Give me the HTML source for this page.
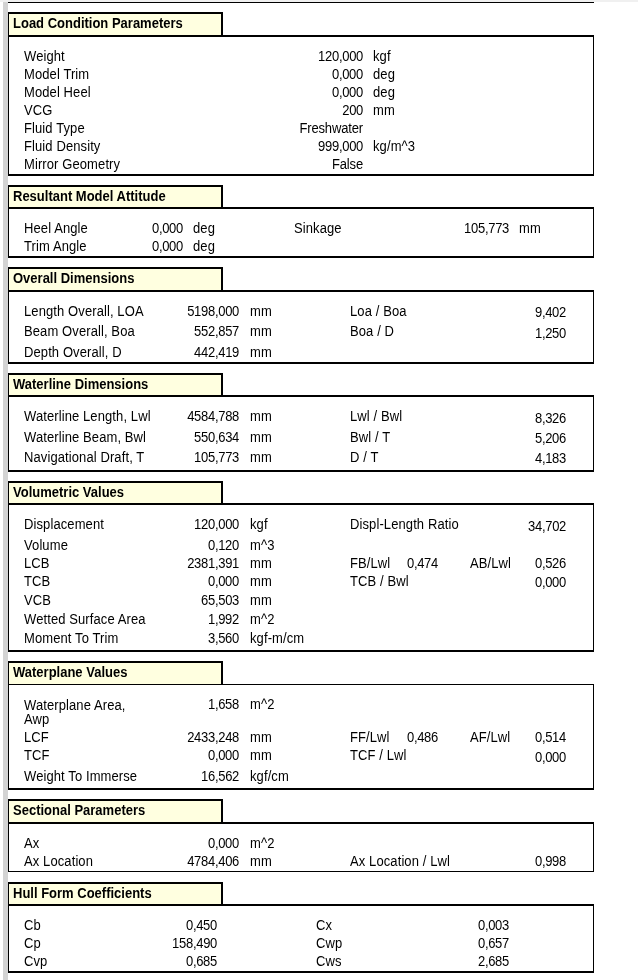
<!DOCTYPE html><html><head><meta charset="utf-8"><style>
html,body{margin:0;padding:0;background:#fff;width:638px;height:980px;overflow:hidden;position:relative}
.r{position:absolute}
.t{position:absolute;font:13px/15px "Liberation Sans", sans-serif;color:#000;white-space:pre;height:15px;transform:scaleY(1.08);transform-origin:0 12px;letter-spacing:0.1px}
.n{letter-spacing:-0.3px}
.rs{letter-spacing:-0.15px}
.L{position:absolute;left:0;top:0;width:638px;height:980px;will-change:transform}
.b{font-weight:bold;letter-spacing:0}
.ra{text-align:right;width:300px}
</style></head><body>
<div class="r" style="left:0px;top:0px;width:638px;height:2px;background:#f0f0f0"></div>
<div class="r" style="left:3px;top:2px;width:5px;height:978px;background:#d3d3d3"></div>
<div class="r" style="left:8px;top:2px;width:586px;height:1px;background:#000"></div>
<div class="r" style="left:9px;top:14px;width:212px;height:21px;background:#ffffe0"></div>
<div class="r" style="left:8px;top:12px;width:215px;height:2px;background:#000"></div>
<div class="r" style="left:8px;top:12px;width:1px;height:23px;background:#000"></div>
<div class="r" style="left:221px;top:12px;width:2px;height:23px;background:#000"></div>
<div class="r" style="left:8px;top:35px;width:586px;height:2px;background:#000"></div>
<div class="r" style="left:8px;top:35px;width:1px;height:141px;background:#000"></div>
<div class="r" style="left:593px;top:35px;width:1px;height:141px;background:#000"></div>
<div class="r" style="left:8px;top:174px;width:586px;height:2px;background:#000"></div>
<div class="r" style="left:9px;top:187px;width:212px;height:20px;background:#ffffe0"></div>
<div class="r" style="left:8px;top:185px;width:215px;height:2px;background:#000"></div>
<div class="r" style="left:8px;top:185px;width:1px;height:22px;background:#000"></div>
<div class="r" style="left:221px;top:185px;width:2px;height:22px;background:#000"></div>
<div class="r" style="left:8px;top:207px;width:586px;height:2px;background:#000"></div>
<div class="r" style="left:8px;top:207px;width:1px;height:51px;background:#000"></div>
<div class="r" style="left:593px;top:207px;width:1px;height:51px;background:#000"></div>
<div class="r" style="left:8px;top:256px;width:586px;height:2px;background:#000"></div>
<div class="r" style="left:9px;top:269px;width:212px;height:21px;background:#ffffe0"></div>
<div class="r" style="left:8px;top:267px;width:215px;height:2px;background:#000"></div>
<div class="r" style="left:8px;top:267px;width:1px;height:23px;background:#000"></div>
<div class="r" style="left:221px;top:267px;width:2px;height:23px;background:#000"></div>
<div class="r" style="left:8px;top:290px;width:586px;height:2px;background:#000"></div>
<div class="r" style="left:8px;top:290px;width:1px;height:74px;background:#000"></div>
<div class="r" style="left:593px;top:290px;width:1px;height:74px;background:#000"></div>
<div class="r" style="left:8px;top:362px;width:586px;height:2px;background:#000"></div>
<div class="r" style="left:9px;top:375px;width:212px;height:20px;background:#ffffe0"></div>
<div class="r" style="left:8px;top:373px;width:215px;height:2px;background:#000"></div>
<div class="r" style="left:8px;top:373px;width:1px;height:22px;background:#000"></div>
<div class="r" style="left:221px;top:373px;width:2px;height:22px;background:#000"></div>
<div class="r" style="left:8px;top:395px;width:586px;height:2px;background:#000"></div>
<div class="r" style="left:8px;top:395px;width:1px;height:77px;background:#000"></div>
<div class="r" style="left:593px;top:395px;width:1px;height:77px;background:#000"></div>
<div class="r" style="left:8px;top:470px;width:586px;height:2px;background:#000"></div>
<div class="r" style="left:9px;top:483px;width:212px;height:20px;background:#ffffe0"></div>
<div class="r" style="left:8px;top:481px;width:215px;height:2px;background:#000"></div>
<div class="r" style="left:8px;top:481px;width:1px;height:22px;background:#000"></div>
<div class="r" style="left:221px;top:481px;width:2px;height:22px;background:#000"></div>
<div class="r" style="left:8px;top:503px;width:586px;height:2px;background:#000"></div>
<div class="r" style="left:8px;top:503px;width:1px;height:149px;background:#000"></div>
<div class="r" style="left:593px;top:503px;width:1px;height:149px;background:#000"></div>
<div class="r" style="left:8px;top:650px;width:586px;height:2px;background:#000"></div>
<div class="r" style="left:9px;top:663px;width:212px;height:21px;background:#ffffe0"></div>
<div class="r" style="left:8px;top:661px;width:215px;height:2px;background:#000"></div>
<div class="r" style="left:8px;top:661px;width:1px;height:23px;background:#000"></div>
<div class="r" style="left:221px;top:661px;width:2px;height:23px;background:#000"></div>
<div class="r" style="left:8px;top:684px;width:586px;height:1px;background:#000"></div>
<div class="r" style="left:8px;top:684px;width:1px;height:106px;background:#000"></div>
<div class="r" style="left:593px;top:684px;width:1px;height:106px;background:#000"></div>
<div class="r" style="left:8px;top:788px;width:586px;height:2px;background:#000"></div>
<div class="r" style="left:9px;top:801px;width:212px;height:21px;background:#ffffe0"></div>
<div class="r" style="left:8px;top:799px;width:215px;height:2px;background:#000"></div>
<div class="r" style="left:8px;top:799px;width:1px;height:23px;background:#000"></div>
<div class="r" style="left:221px;top:799px;width:2px;height:23px;background:#000"></div>
<div class="r" style="left:8px;top:822px;width:586px;height:2px;background:#000"></div>
<div class="r" style="left:8px;top:822px;width:1px;height:50px;background:#000"></div>
<div class="r" style="left:593px;top:822px;width:1px;height:50px;background:#000"></div>
<div class="r" style="left:8px;top:871px;width:586px;height:1px;background:#000"></div>
<div class="r" style="left:9px;top:884px;width:212px;height:20px;background:#ffffe0"></div>
<div class="r" style="left:8px;top:882px;width:215px;height:2px;background:#000"></div>
<div class="r" style="left:8px;top:882px;width:1px;height:22px;background:#000"></div>
<div class="r" style="left:221px;top:882px;width:2px;height:22px;background:#000"></div>
<div class="r" style="left:8px;top:904px;width:586px;height:2px;background:#000"></div>
<div class="r" style="left:8px;top:904px;width:1px;height:69px;background:#000"></div>
<div class="r" style="left:593px;top:904px;width:1px;height:69px;background:#000"></div>
<div class="r" style="left:8px;top:971px;width:586px;height:2px;background:#000"></div>
<div class="L">
<div class="t b" style="left:13px;top:16px">Load Condition Parameters</div>
<div class="t b" style="left:13px;top:189px">Resultant Model Attitude</div>
<div class="t b" style="left:13px;top:271px">Overall Dimensions</div>
<div class="t b" style="left:13px;top:377px">Waterline Dimensions</div>
<div class="t b" style="left:13px;top:485px">Volumetric Values</div>
<div class="t b" style="left:13px;top:665px">Waterplane Values</div>
<div class="t b" style="left:13px;top:803px">Sectional Parameters</div>
<div class="t b" style="left:13px;top:886px">Hull Form Coefficients</div>
<div class="t" style="left:24px;top:49px">Weight</div>
<div class="t ra n" style="left:63px;top:49px">120,000</div>
<div class="t" style="left:373px;top:49px">kgf</div>
<div class="t" style="left:24px;top:67px">Model Trim</div>
<div class="t ra n" style="left:63px;top:67px">0,000</div>
<div class="t" style="left:373px;top:67px">deg</div>
<div class="t" style="left:24px;top:85px">Model Heel</div>
<div class="t ra n" style="left:63px;top:85px">0,000</div>
<div class="t" style="left:373px;top:85px">deg</div>
<div class="t" style="left:24px;top:103px">VCG</div>
<div class="t ra n" style="left:63px;top:103px">200</div>
<div class="t" style="left:373px;top:103px">mm</div>
<div class="t" style="left:24px;top:121px">Fluid Type</div>
<div class="t ra rs" style="left:63px;top:121px">Freshwater</div>
<div class="t" style="left:24px;top:139px">Fluid Density</div>
<div class="t ra n" style="left:63px;top:139px">999,000</div>
<div class="t" style="left:373px;top:139px">kg/m^3</div>
<div class="t" style="left:24px;top:157px">Mirror Geometry</div>
<div class="t ra rs" style="left:63px;top:157px">False</div>
<div class="t" style="left:24px;top:221px">Heel Angle</div>
<div class="t ra n" style="left:-117px;top:221px">0,000</div>
<div class="t" style="left:193px;top:221px">deg</div>
<div class="t" style="left:24px;top:239px">Trim Angle</div>
<div class="t ra n" style="left:-117px;top:239px">0,000</div>
<div class="t" style="left:193px;top:239px">deg</div>
<div class="t" style="left:294px;top:221px">Sinkage</div>
<div class="t ra n" style="left:209px;top:221px">105,773</div>
<div class="t" style="left:519px;top:221px">mm</div>
<div class="t" style="left:24px;top:304px">Length Overall, LOA</div>
<div class="t ra n" style="left:-61px;top:304px">5198,000</div>
<div class="t" style="left:250px;top:304px">mm</div>
<div class="t" style="left:24px;top:324px">Beam Overall, Boa</div>
<div class="t ra n" style="left:-61px;top:324px">552,857</div>
<div class="t" style="left:250px;top:324px">mm</div>
<div class="t" style="left:24px;top:345px">Depth Overall, D</div>
<div class="t ra n" style="left:-61px;top:345px">442,419</div>
<div class="t" style="left:250px;top:345px">mm</div>
<div class="t" style="left:350px;top:304px">Loa / Boa</div>
<div class="t ra n" style="left:266px;top:305px">9,402</div>
<div class="t" style="left:350px;top:324px">Boa / D</div>
<div class="t ra n" style="left:266px;top:326px">1,250</div>
<div class="t" style="left:24px;top:409px">Waterline Length, Lwl</div>
<div class="t ra n" style="left:-61px;top:409px">4584,788</div>
<div class="t" style="left:250px;top:409px">mm</div>
<div class="t" style="left:24px;top:430px">Waterline Beam, Bwl</div>
<div class="t ra n" style="left:-61px;top:430px">550,634</div>
<div class="t" style="left:250px;top:430px">mm</div>
<div class="t" style="left:24px;top:450px">Navigational Draft, T</div>
<div class="t ra n" style="left:-61px;top:450px">105,773</div>
<div class="t" style="left:250px;top:450px">mm</div>
<div class="t" style="left:350px;top:409px">Lwl / Bwl</div>
<div class="t ra n" style="left:266px;top:411px">8,326</div>
<div class="t" style="left:350px;top:430px">Bwl / T</div>
<div class="t ra n" style="left:266px;top:431px">5,206</div>
<div class="t" style="left:350px;top:450px">D / T</div>
<div class="t ra n" style="left:266px;top:451px">4,183</div>
<div class="t" style="left:24px;top:517px">Displacement</div>
<div class="t ra n" style="left:-61px;top:517px">120,000</div>
<div class="t" style="left:250px;top:517px">kgf</div>
<div class="t" style="left:24px;top:538px">Volume</div>
<div class="t ra n" style="left:-61px;top:538px">0,120</div>
<div class="t" style="left:250px;top:538px">m^3</div>
<div class="t" style="left:24px;top:556px">LCB</div>
<div class="t ra n" style="left:-61px;top:556px">2381,391</div>
<div class="t" style="left:250px;top:556px">mm</div>
<div class="t" style="left:24px;top:574px">TCB</div>
<div class="t ra n" style="left:-61px;top:574px">0,000</div>
<div class="t" style="left:250px;top:574px">mm</div>
<div class="t" style="left:24px;top:593px">VCB</div>
<div class="t ra n" style="left:-61px;top:593px">65,503</div>
<div class="t" style="left:250px;top:593px">mm</div>
<div class="t" style="left:24px;top:612px">Wetted Surface Area</div>
<div class="t ra n" style="left:-61px;top:612px">1,992</div>
<div class="t" style="left:250px;top:612px">m^2</div>
<div class="t" style="left:24px;top:631px">Moment To Trim</div>
<div class="t ra n" style="left:-61px;top:631px">3,560</div>
<div class="t" style="left:250px;top:631px">kgf-m/cm</div>
<div class="t" style="left:350px;top:517px">Displ-Length Ratio</div>
<div class="t ra n" style="left:266px;top:519px">34,702</div>
<div class="t" style="left:350px;top:556px">FB/Lwl</div>
<div class="t ra n" style="left:138px;top:556px">0,474</div>
<div class="t" style="left:470px;top:556px">AB/Lwl</div>
<div class="t ra n" style="left:266px;top:556px">0,526</div>
<div class="t" style="left:350px;top:574px">TCB / Bwl</div>
<div class="t ra n" style="left:266px;top:575px">0,000</div>
<div class="t" style="left:24px;top:698px">Waterplane Area,</div>
<div class="t" style="left:24px;top:712px">Awp</div>
<div class="t ra n" style="left:-61px;top:697px">1,658</div>
<div class="t" style="left:250px;top:697px">m^2</div>
<div class="t" style="left:24px;top:730px">LCF</div>
<div class="t ra n" style="left:-61px;top:730px">2433,248</div>
<div class="t" style="left:250px;top:730px">mm</div>
<div class="t" style="left:24px;top:748px">TCF</div>
<div class="t ra n" style="left:-61px;top:748px">0,000</div>
<div class="t" style="left:250px;top:748px">mm</div>
<div class="t" style="left:24px;top:769px">Weight To Immerse</div>
<div class="t ra n" style="left:-61px;top:769px">16,562</div>
<div class="t" style="left:250px;top:769px">kgf/cm</div>
<div class="t" style="left:350px;top:730px">FF/Lwl</div>
<div class="t ra n" style="left:138px;top:730px">0,486</div>
<div class="t" style="left:470px;top:730px">AF/Lwl</div>
<div class="t ra n" style="left:266px;top:730px">0,514</div>
<div class="t" style="left:350px;top:748px">TCF / Lwl</div>
<div class="t ra n" style="left:266px;top:750px">0,000</div>
<div class="t" style="left:24px;top:836px">Ax</div>
<div class="t ra n" style="left:-61px;top:836px">0,000</div>
<div class="t" style="left:250px;top:836px">m^2</div>
<div class="t" style="left:24px;top:854px">Ax Location</div>
<div class="t ra n" style="left:-61px;top:854px">4784,406</div>
<div class="t" style="left:250px;top:854px">mm</div>
<div class="t" style="left:350px;top:854px">Ax Location / Lwl</div>
<div class="t ra n" style="left:266px;top:854px">0,998</div>
<div class="t" style="left:24px;top:918px">Cb</div>
<div class="t ra n" style="left:-83px;top:918px">0,450</div>
<div class="t" style="left:316px;top:918px">Cx</div>
<div class="t ra n" style="left:209px;top:918px">0,003</div>
<div class="t" style="left:24px;top:936px">Cp</div>
<div class="t ra n" style="left:-83px;top:936px">158,490</div>
<div class="t" style="left:316px;top:936px">Cwp</div>
<div class="t ra n" style="left:209px;top:936px">0,657</div>
<div class="t" style="left:24px;top:954px">Cvp</div>
<div class="t ra n" style="left:-83px;top:954px">0,685</div>
<div class="t" style="left:316px;top:954px">Cws</div>
<div class="t ra n" style="left:209px;top:954px">2,685</div>
</div>
</body></html>
